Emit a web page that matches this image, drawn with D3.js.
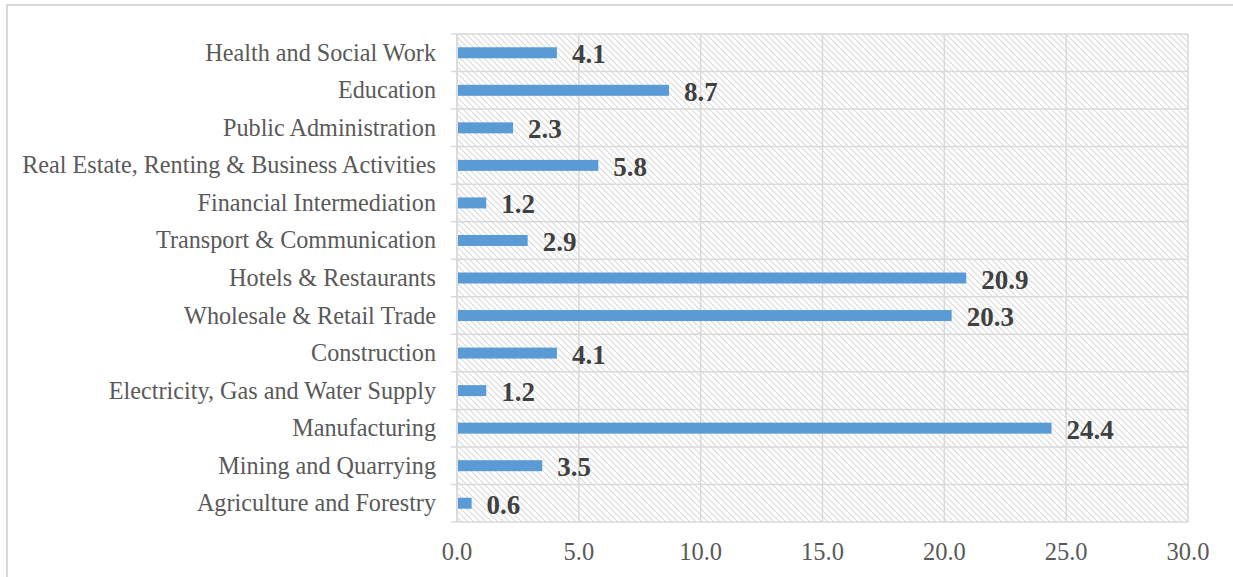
<!DOCTYPE html>
<html><head><meta charset="utf-8">
<script src="https://cdn.jsdelivr.net/npm/d3@7"></script>
<style>body{margin:0;background:#fff}svg{display:block}</style>
</head><body>
<svg id="c" width="1233" height="577"></svg>
<script>
const categories = ["Agriculture and Forestry","Mining and Quarrying","Manufacturing","Electricity, Gas and Water Supply","Construction","Wholesale & Retail Trade","Hotels & Restaurants","Transport & Communication","Financial Intermediation","Real Estate, Renting & Business Activities","Public Administration","Education","Health and Social Work"];
const values = [0.6,3.5,24.4,1.2,4.1,20.3,20.9,2.9,1.2,5.8,2.3,8.7,4.1];
const xTicks = [0,5,10,15,20,25,30];

const svg = d3.select("#c");
const W = 1233, H = 577;
const m = {left:457, right:W-1188, top:34, bottom:H-522};

// outer border
svg.append("rect").attr("x",7).attr("y",5).attr("width",W).attr("height",H)
  .attr("fill","none").attr("stroke","#d9d9d9").attr("stroke-width",2);

const defs = svg.append("defs");
const pat = defs.append("pattern").attr("id","hatch").attr("patternUnits","userSpaceOnUse")
  .attr("width",6).attr("height",6);
pat.append("path").attr("d","M-1,-1 L7,7 M-1,5 L1,7 M5,-1 L7,1")
  .attr("stroke","#d9d9d9").attr("stroke-width",1.1);

const x = d3.scaleLinear().domain([0,30]).range([m.left, W-m.right]);
const y = d3.scaleBand().domain(categories.slice().reverse()).range([m.top, H-m.bottom]).paddingInner(0).paddingOuter(0);

svg.append("rect").attr("x",x(0)).attr("y",m.top).attr("width",x(30)-x(0)).attr("height",H-m.bottom-m.top)
  .attr("fill","url(#hatch)");

// vertical gridlines
svg.append("g").selectAll("line").data(xTicks).join("line")
  .attr("x1",d=>x(d)).attr("x2",d=>x(d)).attr("y1",m.top).attr("y2",H-m.bottom)
  .attr("stroke","#d9d9d9").attr("stroke-width",1.5);

// horizontal boundaries with ticks
const bounds = d3.range(categories.length+1).map(i=>m.top + i*y.step());
svg.append("g").selectAll("line").data(bounds).join("line")
  .attr("x1",x(0)-6).attr("x2",x(30)).attr("y1",d=>d).attr("y2",d=>d)
  .attr("stroke","#d9d9d9").attr("stroke-width",1.5);
svg.append("line").attr("x1",x(0)).attr("x2",x(0)).attr("y1",m.top).attr("y2",H-m.bottom)
  .attr("stroke","#d9d9d9").attr("stroke-width",1.5);

const barH = 11;
svg.append("g").selectAll("rect").data(categories).join("rect")
  .attr("x",x(0)+1).attr("y",(d)=>y(d)+y.bandwidth()/2-barH/2)
  .attr("width",(d,i)=>x(values[i])-x(0)-1).attr("height",barH)
  .attr("fill","#5b9bd5");

svg.append("g").selectAll("text").data(categories).join("text")
  .attr("x",(d,i)=>x(values[i])+15).attr("y",d=>y(d)+y.bandwidth()/2+10.5)
  .attr("font-family","Liberation Serif").attr("font-weight","bold").attr("font-size",27)
  .attr("fill","#404040").text((d,i)=>values[i].toFixed(1));

svg.append("g").selectAll("text").data(categories).join("text")
  .attr("x",436).attr("y",d=>y(d)+y.bandwidth()/2+8).attr("text-anchor","end")
  .attr("font-family","Liberation Serif").attr("font-size",24.2)
  .attr("fill","#595959").text(d=>d);

svg.append("g").selectAll("text").data(xTicks).join("text")
  .attr("x",d=>x(d)).attr("y",560).attr("text-anchor","middle")
  .attr("font-family","Liberation Serif").attr("font-size",24.5)
  .attr("fill","#595959").text(d=>d.toFixed(1));
</script>
</body></html>
